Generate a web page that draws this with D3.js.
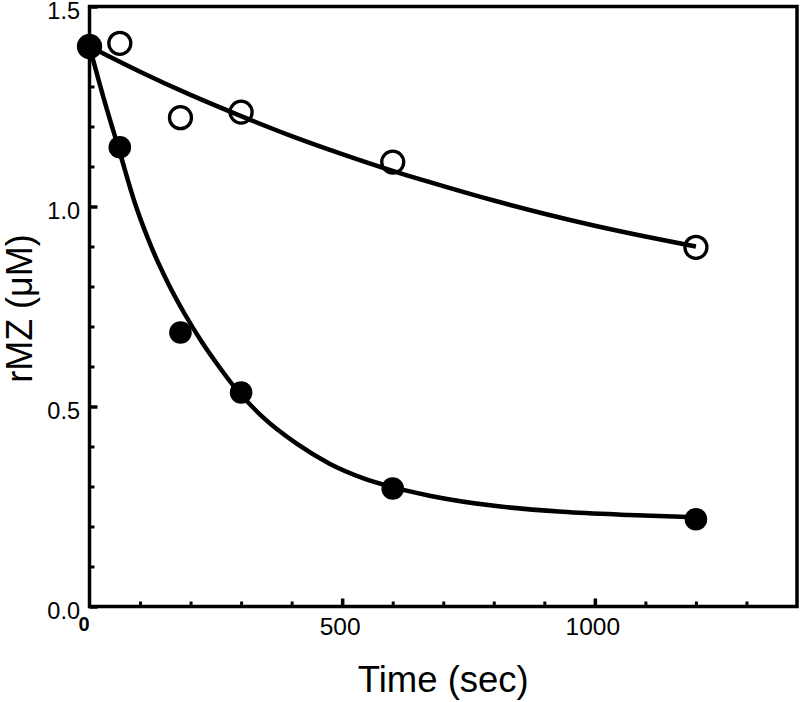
<!DOCTYPE html>
<html>
<head>
<meta charset="utf-8">
<script src="https://cdn.jsdelivr.net/npm/d3@7"></script>
<style>
  html, body { margin: 0; padding: 0; background: #fff; }
  svg { display: block; }
  text { font-family: "Liberation Sans", Arial, sans-serif; fill: #000; }
</style>
</head>
<body>
<svg id="chart" width="800" height="702"></svg>
<script>
// ---- data ----
const timeSec = [0, 60, 180, 300, 600, 1200];
const closedValues = [1.40, 1.148, 0.685, 0.535, 0.295, 0.218];
const openValues = [1.40, 1.408, 1.222, 1.236, 1.111, 0.898];

// fitted curves
const fitClosedT = [0, 30, 60, 90, 123, 156, 189, 222, 255, 288, 344, 410, 475, 541, 598, 673, 805, 936, 1068, 1200];
const fitClosedV = [1.40, 1.262, 1.135, 1.008, 0.897, 0.807, 0.73, 0.662, 0.602, 0.547, 0.472, 0.407, 0.357, 0.321, 0.299, 0.277, 0.251, 0.237, 0.229, 0.223];
const fitOpenT = [0, 100, 200, 300, 400, 500, 600, 700, 800, 900, 1000, 1100, 1200];
const fitOpenV = [1.40, 1.337, 1.279, 1.226, 1.176, 1.131, 1.089, 1.051, 1.015, 0.982, 0.952, 0.925, 0.9];

const xMajorTicks = [500, 1000];
const xMinorTicks = [100, 200, 300, 400, 600, 700, 800, 900, 1100, 1200, 1300];
const yMajorTicks = [0, 0.5, 1.0, 1.5];
const yMinorTicks = [0.1, 0.2, 0.3, 0.4, 0.6, 0.7, 0.8, 0.9, 1.1, 1.2, 1.3, 1.4];
const xTitle = "Time (sec)";
const yTitle = "rMZ (\u03BCM)";

(function () {
// ---- layout ----
const pLeft = 89.5, pRight = 797, pTop = 6.5, pBottom = 606.5;
const svg = d3.select("#chart");

const x = d3.scaleLinear().domain([0, 1400]).range([pLeft, pRight]);
const y = d3.scaleLinear().domain([0, 1.5]).range([pBottom, pTop]);

// minor ticks
svg.append("g").attr("transform", `translate(0,${pBottom})`)
  .call(d3.axisBottom(x).tickValues(xMinorTicks).tickSize(-5).tickFormat(""))
  .call(g => g.select(".domain").remove())
  .call(g => g.selectAll("line").attr("stroke", "#000").attr("stroke-width", 3));
svg.append("g").attr("transform", `translate(${pLeft},0)`)
  .call(d3.axisLeft(y).tickValues(yMinorTicks).tickSize(-5).tickFormat(""))
  .call(g => g.select(".domain").remove())
  .call(g => g.selectAll("line").attr("stroke", "#000").attr("stroke-width", 3));

// major ticks with labels
svg.append("g").attr("transform", `translate(0,${pBottom})`)
  .call(d3.axisBottom(x).tickValues(xMajorTicks).tickSize(-8).tickPadding(11.5).tickFormat(d3.format("d")))
  .call(g => g.select(".domain").remove())
  .call(g => g.selectAll("line").attr("stroke", "#000").attr("stroke-width", 3.5))
  .call(g => g.selectAll("text").attr("font-size", 24.5).attr("font-family", "Liberation Sans, Arial, sans-serif").attr("fill", "#000").attr("dx", -2.5));
svg.append("g").attr("transform", `translate(${pLeft},0)`)
  .call(d3.axisLeft(y).tickValues(yMajorTicks).tickSize(-8).tickPadding(9.5).tickFormat(d3.format(".1f")))
  .call(g => g.select(".domain").remove())
  .call(g => g.selectAll("line").attr("stroke", "#000").attr("stroke-width", 3.5))
  .call(g => g.selectAll("text").attr("font-size", 23.5).attr("font-family", "Liberation Sans, Arial, sans-serif").attr("fill", "#000").attr("dy", "0.52em"));

// bold zero on the x axis
svg.append("text")
  .attr("x", x(0) - 5.5).attr("y", pBottom + 24)
  .attr("text-anchor", "middle").attr("font-size", 20).attr("font-weight", "bold")
  .text("0");

// frame
svg.append("rect")
  .attr("x", pLeft).attr("y", pTop)
  .attr("width", pRight - pLeft).attr("height", pBottom - pTop)
  .attr("fill", "none").attr("stroke", "#000").attr("stroke-width", 3.5);

// axis titles
svg.append("text")
  .attr("x", (pLeft + pRight) / 2).attr("y", 691.5)
  .attr("text-anchor", "middle").attr("font-size", 36.5)
  .text(xTitle);
svg.append("text")
  .attr("transform", `translate(32,${(pTop + pBottom) / 2 + 2}) rotate(-90)`)
  .attr("text-anchor", "middle").attr("font-size", 36)
  .text(yTitle);

// curves
const line = d3.line().x(d => x(d[0])).y(d => y(d[1])).curve(d3.curveMonotoneX);
svg.append("path")
  .datum(fitOpenT.map((t, i) => [t, fitOpenV[i]]))
  .attr("d", line).attr("fill", "none").attr("stroke", "#000").attr("stroke-width", 4.5);
svg.append("path")
  .datum(fitClosedT.map((t, i) => [t, fitClosedV[i]]))
  .attr("d", line).attr("fill", "none").attr("stroke", "#000").attr("stroke-width", 4.5);

// open circles
svg.append("g").selectAll("circle")
  .data(timeSec.map((t, i) => [t, openValues[i]]))
  .join("circle")
  .attr("cx", d => x(d[0])).attr("cy", d => y(d[1])).attr("r", 11)
  .attr("fill", "none").attr("stroke", "#000").attr("stroke-width", 3.3);

// filled circles
svg.append("g").selectAll("circle")
  .data(timeSec.map((t, i) => [t, closedValues[i]]))
  .join("circle")
  .attr("cx", d => x(d[0])).attr("cy", d => y(d[1])).attr("r", 11.3)
  .attr("fill", "#000");
})();
</script>
</body>
</html>
